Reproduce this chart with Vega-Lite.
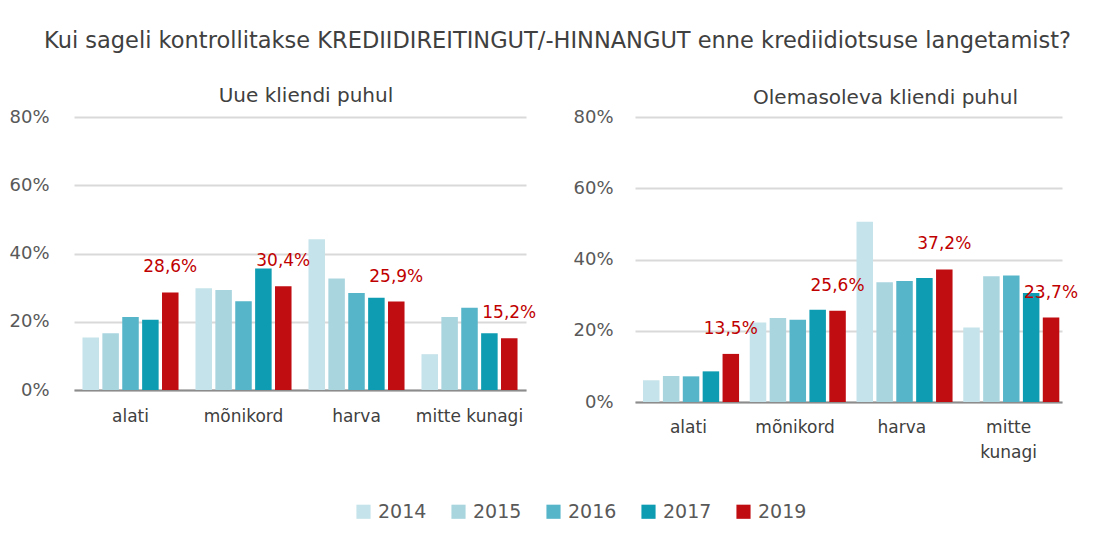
{
  "$schema": "https://vega.github.io/schema/vega-lite/v6.json",
  "background": "white",
  "padding": {"left": 8, "top": 29, "right": 5, "bottom": 5},
  "title": {
    "text": "Kui sageli kontrollitakse KREDIIDIREITINGUT/-HINNANGUT enne krediidiotsuse langetamist?",
    "font": "DejaVu Sans", "fontSize": 22.5, "fontWeight": "normal", "color": "#404040",
    "anchor": "middle", "offset": 34, "dx": 14
  },
  "datasets": {
    "uus": [
      {"category": "alati", "year": "2014", "value": 0.154},
      {"category": "alati", "year": "2015", "value": 0.166},
      {"category": "alati", "year": "2016", "value": 0.214},
      {"category": "alati", "year": "2017", "value": 0.206},
      {"category": "alati", "year": "2019", "value": 0.286},
      {"category": "mõnikord", "year": "2014", "value": 0.298},
      {"category": "mõnikord", "year": "2015", "value": 0.293},
      {"category": "mõnikord", "year": "2016", "value": 0.260},
      {"category": "mõnikord", "year": "2017", "value": 0.356},
      {"category": "mõnikord", "year": "2019", "value": 0.304},
      {"category": "harva", "year": "2014", "value": 0.442},
      {"category": "harva", "year": "2015", "value": 0.327},
      {"category": "harva", "year": "2016", "value": 0.284},
      {"category": "harva", "year": "2017", "value": 0.270},
      {"category": "harva", "year": "2019", "value": 0.259},
      {"category": "mitte kunagi", "year": "2014", "value": 0.105},
      {"category": "mitte kunagi", "year": "2015", "value": 0.214},
      {"category": "mitte kunagi", "year": "2016", "value": 0.241},
      {"category": "mitte kunagi", "year": "2017", "value": 0.166},
      {"category": "mitte kunagi", "year": "2019", "value": 0.152}
    ],
    "olemasolev": [
      {"category": "alati", "year": "2014", "value": 0.061},
      {"category": "alati", "year": "2015", "value": 0.073},
      {"category": "alati", "year": "2016", "value": 0.072},
      {"category": "alati", "year": "2017", "value": 0.086},
      {"category": "alati", "year": "2019", "value": 0.135},
      {"category": "mõnikord", "year": "2014", "value": 0.223},
      {"category": "mõnikord", "year": "2015", "value": 0.236},
      {"category": "mõnikord", "year": "2016", "value": 0.231},
      {"category": "mõnikord", "year": "2017", "value": 0.259},
      {"category": "mõnikord", "year": "2019", "value": 0.256},
      {"category": "harva", "year": "2014", "value": 0.506},
      {"category": "harva", "year": "2015", "value": 0.336},
      {"category": "harva", "year": "2016", "value": 0.340},
      {"category": "harva", "year": "2017", "value": 0.348},
      {"category": "harva", "year": "2019", "value": 0.372},
      {"category": "mitte kunagi", "year": "2014", "value": 0.209},
      {"category": "mitte kunagi", "year": "2015", "value": 0.353},
      {"category": "mitte kunagi", "year": "2016", "value": 0.355},
      {"category": "mitte kunagi", "year": "2017", "value": 0.306},
      {"category": "mitte kunagi", "year": "2019", "value": 0.237}
    ]
  },
  "spacing": 35,
  "resolve": {"scale": {"color": "shared"}, "legend": {"color": "shared"}},
  "hconcat": [
    {
      "width": 452, "height": 273,
      "title": {"text": "Uue kliendi puhul", "font": "DejaVu Sans", "fontSize": 20, "fontWeight": "normal", "color": "#404040", "offset": 2, "dx": 6},
      "data": {"name": "uus"},
      "encoding": {
        "x": {"field": "category", "type": "nominal", "sort": ["alati", "mõnikord", "harva", "mitte kunagi"],
              "scale": {"paddingInner": 0.15, "paddingOuter": 0.075},
              "axis": {"title": null, "labelAngle": 0, "ticks": false, "labelPadding": 18}},
        "xOffset": {"field": "year", "type": "nominal", "scale": {"paddingInner": 0.17, "paddingOuter": 0}},
        "y": {"field": "value", "type": "quantitative", "scale": {"domain": [0, 0.8]},
              "axis": {"title": null, "format": ".0%", "values": [0, 0.2, 0.4, 0.6, 0.8], "domain": false, "ticks": false, "labelPadding": 25}}
      },
      "layer": [
        {"mark": {"type": "bar"},
         "encoding": {"color": {"field": "year", "type": "nominal", "title": null,
           "scale": {"domain": ["2014", "2015", "2016", "2017", "2019"], "range": ["#C5E3EA", "#A9D5DF", "#56B5C9", "#0E9CB2", "#C00D12"]},
           "legend": {"orient": "none", "legendX": 280, "legendY": 385}}}},
        {"transform": [{"filter": "datum.year == '2019'"}],
         "mark": {"type": "text", "font": "DejaVu Sans", "fontSize": 17, "color": "#C00000", "baseline": "middle", "dy": -25},
         "encoding": {"text": {"field": "value", "type": "quantitative", "format": ".1%"}}}
      ]
    },
    {
      "width": 427, "height": 285,
      "title": {"text": "Olemasoleva kliendi puhul", "font": "DejaVu Sans", "fontSize": 20, "fontWeight": "normal", "color": "#404040", "offset": 0, "dx": 37},
      "data": {"name": "olemasolev"},
      "encoding": {
        "x": {"field": "category", "type": "nominal", "sort": ["alati", "mõnikord", "harva", "mitte kunagi"],
              "scale": {"paddingInner": 0.15, "paddingOuter": 0.075},
              "axis": {"title": null, "labelAngle": 0, "ticks": false, "labelPadding": 17, "labelLineHeight": 25,
                       "labelExpr": "datum.label == 'mitte kunagi' ? ['mitte', 'kunagi'] : datum.label"}},
        "xOffset": {"field": "year", "type": "nominal", "scale": {"paddingInner": 0.17, "paddingOuter": 0}},
        "y": {"field": "value", "type": "quantitative", "scale": {"domain": [0, 0.8]},
              "axis": {"title": null, "format": ".0%", "values": [0, 0.2, 0.4, 0.6, 0.8], "domain": false, "ticks": false, "labelPadding": 22}}
      },
      "layer": [
        {"mark": {"type": "bar"},
         "encoding": {"color": {"field": "year", "type": "nominal", "title": null,
           "scale": {"domain": ["2014", "2015", "2016", "2017", "2019"], "range": ["#C5E3EA", "#A9D5DF", "#56B5C9", "#0E9CB2", "#C00D12"]}}}},
        {"transform": [{"filter": "datum.year == '2019'"}],
         "mark": {"type": "text", "font": "DejaVu Sans", "fontSize": 17, "color": "#C00000", "baseline": "middle", "dy": -25},
         "encoding": {"text": {"field": "value", "type": "quantitative", "format": ".1%"}}}
      ]
    }
  ],
  "config": {
    "locale": {"number": {"decimal": ",", "thousands": " ", "grouping": [3], "currency": ["", " €"]}},
    "view": {"stroke": null},
    "font": "DejaVu Sans",
    "axis": {"labelFont": "DejaVu Sans", "labelFontSize": 18, "labelColor": "#595959", "gridColor": "#D9D9D9", "gridWidth": 2, "domainColor": "#8C8C8C", "domainWidth": 2},
    "axisX": {"labelFontSize": 17, "labelColor": "#404040"},
    "legend": {"direction": "horizontal", "symbolType": "square", "symbolSize": 200, "symbolStrokeWidth": 0,
               "labelFont": "DejaVu Sans", "labelFontSize": 19, "labelColor": "#595959", "labelOffset": 5, "columnPadding": 22}
  }
}
